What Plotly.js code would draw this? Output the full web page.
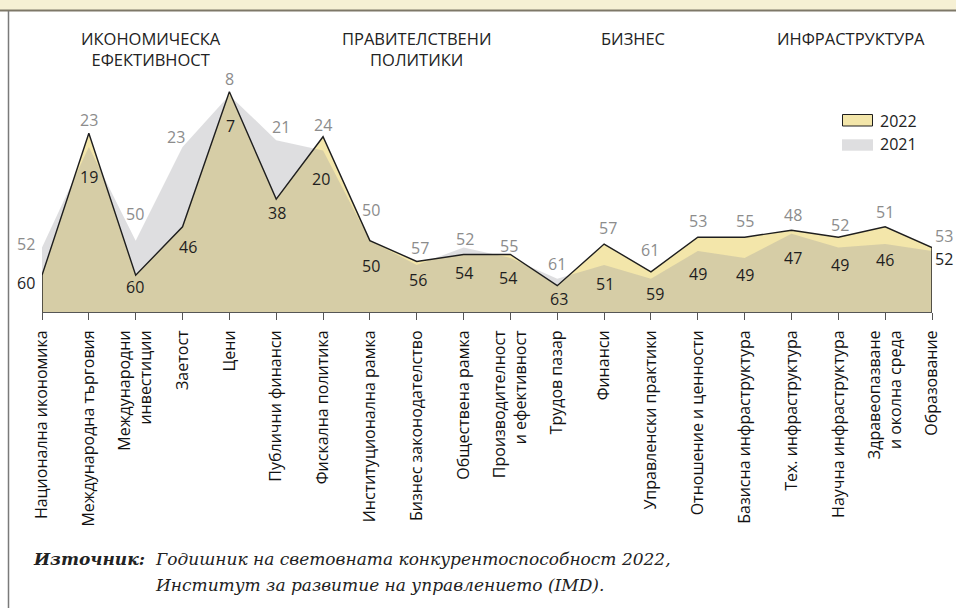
<!DOCTYPE html>
<html>
<head>
<meta charset="utf-8">
<script src="https://cdn.plot.ly/plotly-3.0.1.min.js"></script>
<style>
  html, body { margin: 0; padding: 0; background: #ffffff; }
  #chart { width: 956px; height: 608px; }
</style>
</head>
<body>
<div id="chart"></div>
<script>
// ---- data ----
const categories = [
  "Национална икономика", "Международна търговия", "Международни<br>инвестиции", "Заетост",
  "Цени", "Публични финанси", "Фискална политика", "Институционална рамка",
  "Бизнес законодателство", "Обществена рамка", "Производителност<br>и ефективност", "Трудов пазар",
  "Финанси", "Управленски практики", "Отношение и ценности", "Базисна инфраструктура",
  "Тех. инфраструктура", "Научна инфраструктура", "Здравеопазване<br>и околна среда", "Образование"
];
const rank2022 = [60, 19, 60, 46, 7, 38, 20, 50, 56, 54, 54, 63, 51, 59, 49, 49, 47, 49, 46, 52];
const rank2021 = [52, 23, 50, 23, 8, 21, 24, 50, 57, 52, 55, 61, 57, 61, 53, 55, 48, 52, 51, 53];
const seriesNames = ["2022", "2021"];
const groupTitles = ["ИКОНОМИЧЕСКА<br>ЕФЕКТИВНОСТ", "ПРАВИТЕЛСТВЕНИ<br>ПОЛИТИКИ", "БИЗНЕС", "ИНФРАСТРУКТУРА"];
const sourceLabel = "Източник:";
const sourceLines = ["Годишник на световната конкурентоспособност 2022,", "Институт за развитие на управлението (IMD)."];

// ---- layout constants ----
const W = 956, H = 608;
const M = { l: 42, r: 24, t: 33, b: 296 };
const PW = W - M.l - M.r, PH = H - M.t - M.b;
const AXIS_FLOOR = 70.6;   // rank at the baseline
const AXIS_TOP = -9.94;    // rank at the top of plot area
const px = x => (x - M.l) / PW;
const py = y => (H - M.b - y) / PH;

// label nudges in pixels (x right, y up)
const grayDx = [-16, 0, -1, -7, 0, 5, 0, 1, 3, 1, -1, 0, 3.5, -1, 0, 0, 2, 2, -0.6, 12.3];
const grayDy = [4, 13, 26.6, 10, 12.7, 13, 11.4, 30.6, 13, 8.3, 8.8, 14.4, 15.8, 21.8, 16.2, 16.2, 15.2, 12.5, 14.5, 11.9];
const blackDx = [-16, 0.5, -1, 5, 1.6, 0.4, -2, 1, 1.6, 0, -2, 1.3, 1.2, 3.6, 0, 0, 2, 2, 0, 12.3];
const blackDy = [-8, -43.5, -11.7, -20.5, -34.3, -14.2, -42.6, -25.4, -18.6, -18.8, -23.2, -13.6, -39.9, -22.2, -36.8, -37.8, -27.5, -27.8, -33.2, -11.7];

const YELLOW = "#f3e6aa";
const GRAY_OVER = "rgba(152,152,158,0.32)";
const GRAY_SWATCH = "#dedee0";
const SANS = "Open Sans, Noto Sans, sans-serif";
const SERIF = "DejaVu Serif, Liberation Serif, serif";

const last = categories.length - 1;
const polyX = [categories[0], ...categories, categories[last]];
const poly = vals => [AXIS_FLOOR, ...vals, AXIS_FLOOR];

const traces = [
  { x: polyX, y: poly(rank2022), type: "scatter", mode: "lines", fill: "toself",
    fillcolor: YELLOW, line: { width: 0 }, hoverinfo: "skip", showlegend: false, name: seriesNames[0] },
  { x: polyX, y: poly(rank2021), type: "scatter", mode: "lines", fill: "toself",
    fillcolor: GRAY_OVER, line: { width: 0 }, hoverinfo: "skip", showlegend: false, name: seriesNames[1] },
  { x: polyX, y: poly(rank2022), type: "scatter", mode: "lines", fill: "none",
    line: { color: "#1e1e1e", width: 1.4 }, cliponaxis: false, hoverinfo: "skip", showlegend: false }
];

const annotations = [];
categories.forEach((c, i) => {
  annotations.push({ x: c, y: Math.min(rank2021[i], rank2022[i]), xref: "x", yref: "y",
    text: String(rank2021[i]), showarrow: false, xanchor: "center", yanchor: "middle",
    xshift: grayDx[i], yshift: grayDy[i], font: { family: SANS, size: 16, color: "#8c8c8c" } });
  annotations.push({ x: c, y: rank2022[i], xref: "x", yref: "y",
    text: String(rank2022[i]), showarrow: false, xanchor: "center", yanchor: "middle",
    xshift: blackDx[i], yshift: blackDy[i], font: { family: SANS, size: 16, color: "#1e1e1e" } });
});

const titleX = [151, 416, 633, 850.5];
const titleY = [49, 49, 39, 39];
groupTitles.forEach((t, i) => {
  annotations.push({ x: px(titleX[i]), y: py(titleY[i]), xref: "paper", yref: "paper", text: t,
    showarrow: false, xanchor: "center", yanchor: "middle", align: "center",
    font: { family: SANS, size: 16.5, color: "#222" } });
});

// legend
annotations.push({ x: px(878), y: py(120.7), xref: "paper", yref: "paper", text: seriesNames[0],
  showarrow: false, xanchor: "left", yanchor: "middle", font: { family: SANS, size: 16, color: "#222" } });
annotations.push({ x: px(878), y: py(144), xref: "paper", yref: "paper", text: seriesNames[1],
  showarrow: false, xanchor: "left", yanchor: "middle", font: { family: SANS, size: 16, color: "#222" } });

// source
annotations.push({ x: px(31), y: py(559.3), xref: "paper", yref: "paper", text: "<b><i>" + sourceLabel + "</i></b>",
  showarrow: false, xanchor: "left", yanchor: "middle", font: { family: SERIF, size: 17, color: "#222" } });
sourceLines.forEach((s, k) => {
  annotations.push({ x: px(152.7), y: py(559.3 + k * 25.7), xref: "paper", yref: "paper", text: "<i>" + s + "</i>",
    showarrow: false, xanchor: "left", yanchor: "middle", font: { family: SERIF, size: 17, color: "#222" } });
});

const shapes = [
  { type: "rect", xref: "paper", yref: "paper", x0: px(0), x1: px(W), y0: py(0), y1: py(10),
    fillcolor: "#f6f0d4", line: { width: 0 }, layer: "below" },
  { type: "line", xref: "paper", yref: "paper", x0: px(0), x1: px(W), y0: py(10.5), y1: py(10.5),
    line: { color: "#7e7868", width: 2 } },
  { type: "line", xref: "paper", yref: "paper", x0: px(8.5), x1: px(8.5), y0: py(11), y1: py(H),
    line: { color: "#7a7a7a", width: 1.5 } },
  { type: "rect", xref: "paper", yref: "paper", x0: px(842.5), x1: px(872.5), y0: py(114.5), y1: py(126),
    fillcolor: YELLOW, line: { color: "#1e1e1e", width: 1 } },
  { type: "rect", xref: "paper", yref: "paper", x0: px(842), x1: px(873), y0: py(139.3), y1: py(150.7),
    fillcolor: GRAY_SWATCH, line: { width: 0 } }
];

const layout = {
  width: W, height: H,
  margin: M,
  paper_bgcolor: "#ffffff", plot_bgcolor: "#ffffff",
  showlegend: false,
  xaxis: {
    type: "category", categoryorder: "array", categoryarray: categories,
    range: [0, last], automargin: false, fixedrange: true,
    showgrid: false, zeroline: false, showline: true, linecolor: "#555", linewidth: 1,
    ticks: "outside", ticklen: 7, tickwidth: 1, tickcolor: "#555",
    ticklabelstandoff: 4,
    tickangle: -90, tickfont: { family: SANS, size: 16, color: "#111" }
  },
  yaxis: {
    range: [AXIS_FLOOR, AXIS_TOP], automargin: false, fixedrange: true,
    showgrid: false, zeroline: false, showline: false, showticklabels: false, ticks: ""
  },
  annotations: annotations,
  shapes: shapes
};

Plotly.newPlot("chart", traces, layout, { displayModeBar: false, staticPlot: true });
</script>
</body>
</html>
